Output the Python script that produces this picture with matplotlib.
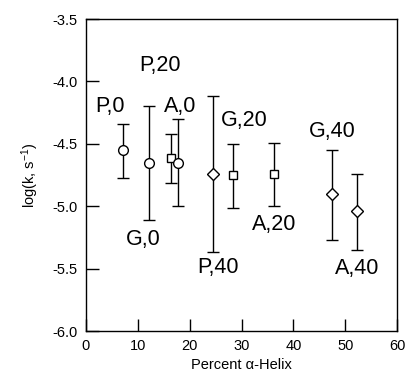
#Importing libraries
import numpy as np
import matplotlib
matplotlib.use('Agg')
import matplotlib.pyplot as plt

plt.rcParams['font.family'] = ['Liberation Sans', 'DejaVu Sans']
plt.rcParams['mathtext.fontset'] = 'custom'
plt.rcParams['mathtext.rm'] = 'Liberation Sans'
plt.rcParams['mathtext.it'] = 'Liberation Sans'

#Data
labels = ['P,0', 'G,0', 'P,20', 'A,0', 'P,40', 'G,20', 'A,20', 'G,40', 'A,40']
helix = [7.1, 12.2, 16.4, 17.7, 24.5, 28.4, 36.3, 47.5, 52.3]
logk = [-4.55, -4.65, -4.61, -4.65, -4.74, -4.75, -4.74, -4.90, -5.04]
err_top = [-4.34, -4.20, -4.42, -4.30, -4.12, -4.50, -4.49, -4.55, -4.74]
err_bot = [-4.77, -5.11, -4.81, -5.00, -5.37, -5.01, -5.00, -5.27, -5.35]
markers = ['o', 'o', 's', 'o', 'D', 's', 's', 'D', 'D']

#Label positions
label_x = [4.6, 11.0, 14.3, 18.1, 25.5, 30.5, 36.3, 47.5, 52.3]
label_y = [-4.20, -5.27, -3.87, -4.20, -5.49, -4.31, -5.15, -4.40, -5.50]

fig = plt.figure(figsize=(4.09, 3.81), dpi=100)
ax = fig.add_axes([0.210, 0.131, 0.761, 0.819])

sizes = {'o': 7, 's': 5.5, 'D': 6.2}
for x, y, top, bot, m in zip(helix, logk, err_top, err_bot, markers):
    ax.errorbar([x], [y], yerr=[[y - bot], [top - y]], fmt=m, color='black',
                mfc='white', mec='black', ms=sizes[m], mew=1.0, elinewidth=1.0,
                capsize=4.5, capthick=1.0, zorder=3)

for lab, lx, ly in zip(labels, label_x, label_y):
    ax.text(lx, ly, lab, fontsize=15.5, ha='center', va='center')

ax.set_xlim(0, 60)
ax.set_ylim(-6.0, -3.5)
ax.set_xticks(np.arange(0, 61, 10))
ax.set_yticks(np.arange(-6.0, -3.49, 0.5))
ax.set_yticklabels(['%.1f' % v for v in np.arange(-6.0, -3.49, 0.5)])
ax.tick_params(direction='in', length=9, width=1.0, labelsize=10.5, top=False, right=False, pad=6)
for s in ax.spines.values():
    s.set_linewidth(1.0)
ax.set_xlabel('Percent \u03b1-Helix', fontsize=10.5, labelpad=3)
ax.set_ylabel(r'log(k, s$^{-1}$)', fontsize=10.5, labelpad=8)

fig.savefig('out.png', dpi=100)
